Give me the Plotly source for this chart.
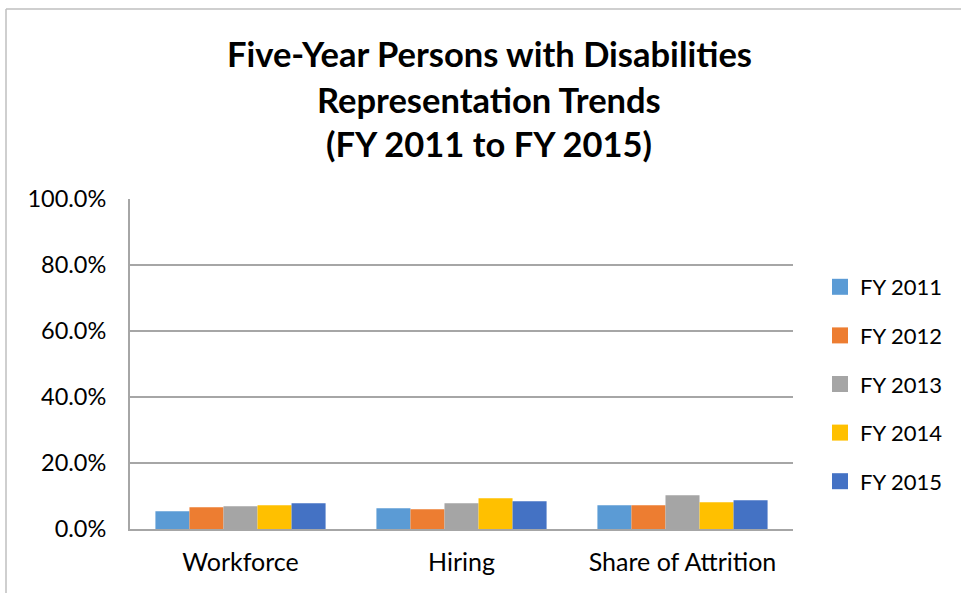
import plotly.graph_objects as go

categories = ["Workforce", "Hiring", "Share of Attrition"]
series_names = ["FY 2011", "FY 2012", "FY 2013", "FY 2014", "FY 2015"]
values = {
    "FY 2011": [5.4, 6.3, 7.2],
    "FY 2012": [6.6, 6.0, 7.2],
    "FY 2013": [6.9, 7.8, 10.2],
    "FY 2014": [7.2, 9.3, 8.1],
    "FY 2015": [7.8, 8.4, 8.7],
}
colors = ["#5B9BD5", "#ED7D31", "#A5A5A5", "#FFC000", "#4472C4"]
y_ticks = [0, 20, 40, 60, 80, 100]
y_tick_labels = ["0.0%", "20.0%", "40.0%", "60.0%", "80.0%", "100.0%"]
title_lines = ["Five-Year Persons with Disabilities", "Representation Trends", "(FY 2011 to FY 2015)"]

W, H = 961, 593
L, R, T, B = 130, 793, 199, 529

fig = go.Figure()
for i, name in enumerate(series_names):
    fig.add_trace(go.Bar(
        x=categories, y=values[name], name=name,
        marker=dict(color=colors[i], line=dict(width=0)),
        showlegend=False,
    ))
# legend entries with larger square swatches
for i, name in enumerate(series_names):
    fig.add_trace(go.Scatter(
        x=[None], y=[None], name=name, mode="markers",
        marker=dict(symbol="square", size=16, color=colors[i]),
        legendgroup=name, showlegend=True, hoverinfo="skip",
    ))

def px(xp):
    return (xp - L) / (R - L)

def py(yp):
    return (B - yp) / (B - T)

annotations = []
for yc, line in zip([54, 99, 144], title_lines):
    annotations.append(dict(
        text=line, x=px(489), y=py(yc), xref="paper", yref="paper",
        xanchor="center", yanchor="middle", showarrow=False,
        font=dict(family="Lato", size=34.5, color="#000000", weight="bold"),
    ))

shapes = [
    dict(type="line", xref="paper", yref="paper", x0=px(6), x1=px(6), y0=py(9), y1=py(700),
         line=dict(color="#BFBFBF", width=1.5)),
    dict(type="line", xref="paper", yref="paper", x0=px(6), x1=px(1000), y0=py(9), y1=py(9),
         line=dict(color="#BFBFBF", width=1.5)),
]

fig.update_layout(
    width=W, height=H,
    margin=dict(l=L, r=W - R, t=T, b=H - B, autoexpand=False),
    paper_bgcolor="white", plot_bgcolor="white",
    barmode="group", bargap=0.23, bargroupgap=0,
    font=dict(family="Lato", size=22, color="#000000"),
    showlegend=True,
    legend=dict(x=px(820), y=py(266), xanchor="left", yanchor="top",
                font=dict(family="Lato", size=22, color="#000000"),
                tracegroupgap=17, itemwidth=30, traceorder="grouped",
                bgcolor="rgba(0,0,0,0)"),
    annotations=annotations,
    shapes=shapes,
    xaxis=dict(showgrid=False, showline=True, linecolor="#A6A6A6", linewidth=2,
               ticks="", tickfont=dict(size=25), ticklabelstandoff=10, fixedrange=True),
    yaxis=dict(range=[0, 100], tickvals=y_ticks, ticktext=y_tick_labels,
               showgrid=True, gridcolor="#A6A6A6", gridwidth=1.5,
               showline=True, linecolor="#A6A6A6", linewidth=2,
               ticks="", ticklen=0, tickfont=dict(size=23.5), zeroline=False,
               ticklabelstandoff=17, fixedrange=True),
)

fig.write_html("out.html", config={"displayModeBar": False},
               post_script="document.body.style.margin='0';document.body.style.overflow='hidden';")
